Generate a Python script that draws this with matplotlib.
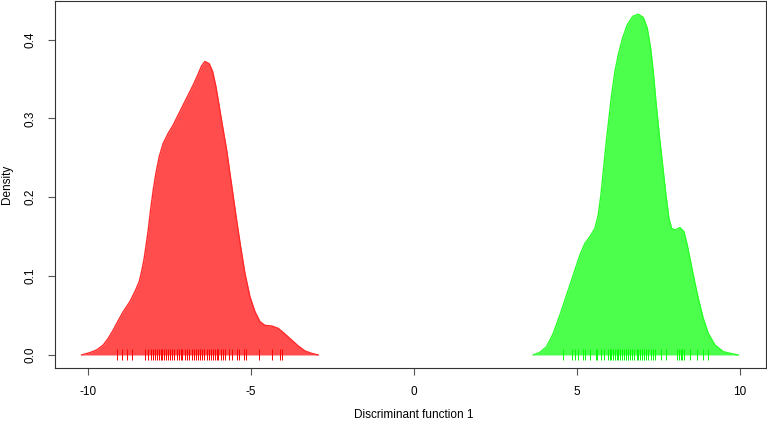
import matplotlib
matplotlib.use("Agg")
import matplotlib.pyplot as plt

plt.rcParams['font.family'] = ['Liberation Sans', 'DejaVu Sans']

# Density curve of group 1 (red)
red_x = [-10.194, -9.939, -9.734, -9.530, -9.376, -9.223, -9.070, -8.916, -8.712,
         -8.558, -8.425, -8.354, -8.282, -8.221, -8.149, -8.078, -7.996, -7.914,
         -7.812, -7.689, -7.536, -7.382, -7.229, -7.076, -6.922, -6.769, -6.616,
         -6.513, -6.411, -6.278, -6.176, -6.074, -5.971, -5.869, -5.746, -5.644,
         -5.542, -5.440, -5.317, -5.184, -5.031, -4.877, -4.724, -4.571, -4.366,
         -4.162, -3.957, -3.752, -3.548, -3.344, -3.139, -2.935]
red_y = [0.0000, 0.0030, 0.0063, 0.0127, 0.0212, 0.0317, 0.0436, 0.0550, 0.0677,
         0.0804, 0.0931, 0.1058, 0.1206, 0.1375, 0.1586, 0.1840, 0.2094, 0.2305,
         0.2517, 0.2686, 0.2813, 0.2919, 0.3046, 0.3173, 0.3299, 0.3426, 0.3566,
         0.3668, 0.3723, 0.3693, 0.3596, 0.3405, 0.3151, 0.2898, 0.2602, 0.2305,
         0.2009, 0.1713, 0.1375, 0.1036, 0.0740, 0.0550, 0.0423, 0.0376, 0.0368,
         0.0338, 0.0266, 0.0190, 0.0114, 0.0051, 0.0021, 0.0000]

# Density curve of group 2 (green)
green_x = [3.660, 3.865, 4.070, 4.274, 4.479, 4.683, 4.888, 5.092, 5.245, 5.399,
           5.552, 5.654, 5.736, 5.808, 5.890, 5.971, 6.063, 6.166, 6.268, 6.401,
           6.544, 6.708, 6.881, 7.035, 7.157, 7.260, 7.341, 7.423, 7.526, 7.628,
           7.730, 7.822, 7.904, 8.006, 8.160, 8.282, 8.384, 8.487, 8.589, 8.722,
           8.875, 9.029, 9.233, 9.489, 9.745, 9.949]
green_y = [0.0000, 0.0034, 0.0106, 0.0275, 0.0508, 0.0761, 0.1015, 0.1269, 0.1417,
           0.1502, 0.1607, 0.1777, 0.2030, 0.2327, 0.2665, 0.2961, 0.3299, 0.3596,
           0.3807, 0.4019, 0.4188, 0.4294, 0.4323, 0.4281, 0.4146, 0.3892, 0.3596,
           0.3215, 0.2792, 0.2411, 0.2030, 0.1734, 0.1607, 0.1586, 0.1616, 0.1565,
           0.1396, 0.1184, 0.0973, 0.0719, 0.0465, 0.0275, 0.0127, 0.0042, 0.0017,
           0.0000]

# Rug (individual observations)
red_rug = [-9.10, -8.95, -8.81, -8.64, -8.25, -8.17, -8.08, -8.00, -7.94, -7.89,
           -7.83, -7.77, -7.72, -7.66, -7.61, -7.54, -7.48, -7.41, -7.35, -7.28,
           -7.22, -7.16, -7.10, -7.02, -6.95, -6.89, -6.80, -6.74, -6.67, -6.62,
           -6.56, -6.49, -6.43, -6.36, -6.29, -6.23, -6.16, -6.10, -6.05, -6.00,
           -5.93, -5.87, -5.80, -5.67, -5.59, -5.42, -5.36, -5.21, -5.15, -4.75,
           -4.35, -4.11, -4.06]
green_rug = [4.58, 4.84, 4.94, 5.04, 5.19, 5.25, 5.40, 5.57, 5.63, 5.74, 5.83,
             5.94, 6.01, 6.06, 6.11, 6.17, 6.22, 6.27, 6.32, 6.37, 6.44, 6.50,
             6.57, 6.63, 6.70, 6.76, 6.83, 6.88, 6.93, 7.00, 7.06, 7.12, 7.19,
             7.26, 7.32, 7.39, 7.57, 7.72, 8.06, 8.13, 8.18, 8.23, 8.29, 8.47,
             8.67, 8.86, 9.03]

x_ticks = [-10, -5, 0, 5, 10]
x_tick_labels = ['-10', '-5', '0', '5', '10']
y_ticks = [0.0, 0.1, 0.2, 0.3, 0.4]
y_tick_labels = ['0.0', '0.1', '0.2', '0.3', '0.4']

fig = plt.figure(figsize=(7.67, 4.23), dpi=100)
ax = fig.add_axes([55 / 767, (423 - 368) / 423, 711 / 767, 367 / 423])

ax.fill_between(red_x, red_y, 0, color=(1, 0, 0, 0.7), linewidth=0)
ax.plot(red_x, red_y, color='#ff2a2a', lw=1.0, solid_joinstyle='round')
ax.fill_between(green_x, green_y, 0, color=(0, 1, 0, 0.7), linewidth=0)
ax.plot(green_x, green_y, color='#2aff2a', lw=1.0, solid_joinstyle='round')

ax.vlines(red_rug, -0.0063, 0.0076, color='#ff0000', lw=0.7)
ax.vlines(green_rug, -0.0063, 0.0076, color='#00ff00', lw=0.7)

ax.set_xlim(-11.01, 10.8)
ax.set_ylim(-0.0165, 0.449)
ax.set_xticks(x_ticks)
ax.set_xticklabels(x_tick_labels)
ax.set_yticks(y_ticks)
ax.set_yticklabels(y_tick_labels, rotation=90, va='center')

ax.tick_params(axis='both', direction='out', length=5, width=0.8,
               color='#555555', labelsize=8.5, pad=8)

for s in ax.spines.values():
    s.set_color('#333333')
    s.set_linewidth(0.8)

ax.set_xlabel('Discriminant function 1', fontsize=8.5, va='center')
ax.xaxis.set_label_coords(0.5 + (414 - 55 - 355.5) / 711, -(415 - 368) / 367)
ax.set_ylabel('Density', fontsize=8.5, va='center')
ax.yaxis.set_label_coords(-(55 - 7) / 711, (368 - 184) / 367)

fig.savefig('out.png', dpi=100)
